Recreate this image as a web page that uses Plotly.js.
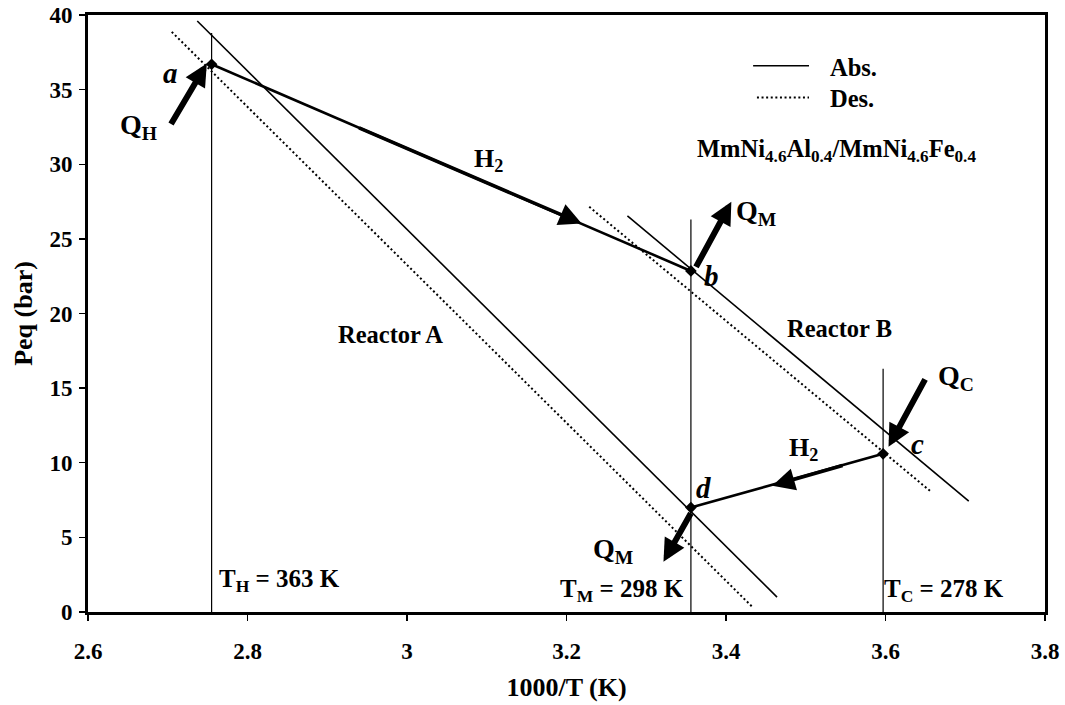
<!DOCTYPE html>
<html>
<head>
<meta charset="utf-8">
<script src="https://cdn.plot.ly/plotly-3.0.1.min.js"></script>
<style>
  html, body { margin: 0; padding: 0; background: #fff; }
  #chart { width: 1065px; height: 705px; }
</style>
</head>
<body>
<div id="chart"></div>
<script>
// Cycle states of the two-reactor metal hydride heat pump (1000/T, bar)
const cycleLabels = ['a', 'b', 'c', 'd'];
const cycleX = [2.755, 3.356, 3.597, 3.356];
const cycleY = [36.7, 22.85, 10.6, 7.0];

// Isotherms: T_H, T_M, T_C
const isoLabels = ['T<sub>H</sub> = 363 K', 'T<sub>M</sub> = 298 K', 'T<sub>C</sub> = 278 K'];
const isoX = [2.755, 3.356, 3.597];
const isoTop = [38.8, 26.3, 16.3];

// Van't Hoff lines for each reactor (absorption / desorption)
const reactorAAbsX = [2.737, 3.464];
const reactorAAbsY = [39.6, 1.0];
const reactorADesX = [2.705, 3.434];
const reactorADesY = [38.87, 0.29];
const reactorBAbsX = [3.2764, 3.7044];
const reactorBAbsY = [26.54, 7.43];
const reactorBDesX = [3.2285, 3.657];
const reactorBDesY = [27.15, 8.06];

// Heat flows: tail and head of each arrow
const heatLabels = ['Q<sub>H</sub>', 'Q<sub>M</sub>', 'Q<sub>C</sub>', 'Q<sub>M</sub>'];
const heatTailX = [2.703, 3.3614, 3.6507, 3.357];
const heatTailY = [32.6, 23.02, 15.69, 6.72];
const heatHeadX = [2.749, 3.4067, 3.6038, 3.3216];
const heatHeadY = [36.75, 27.48, 11.07, 3.37];
const heatTextX = [2.6627, 3.4376, 3.6884, 3.2583];
const heatTextY = [32.5, 26.8, 15.74, 4.09];

// Hydrogen transfer arrows along a->b and c->d
const h2TailX = [2.938, 3.548];
const h2TailY = [32.48, 9.84];
const h2HeadX = [3.219, 3.458];
const h2HeadY = [26.03, 8.46];
const h2TextX = [3.1016, 3.4966];
const h2TextY = [30.27, 10.92];

const xTicks = [2.6, 2.8, 3.0, 3.2, 3.4, 3.6, 3.8];
const xTickText = ['2.6', '2.8', '3', '3.2', '3.4', '3.6', '3.8'];
const yTicks = [0, 5, 10, 15, 20, 25, 30, 35, 40];

const FONT = 'Liberation Serif, Times New Roman, serif';
const DOT = '2px,2.6px';

function line(x, y, width, dash) {
  return { x: x, y: y, type: 'scatter', mode: 'lines', showlegend: false,
           hoverinfo: 'skip', line: { color: '#000', width: width, dash: dash || 'solid' } };
}
function bold(size, extra) {
  return Object.assign({ family: FONT, size: size, color: '#000', weight: 'bold' }, extra || {});
}

const traces = [];
// isotherms
isoX.forEach(function (xv, i) {
  traces.push(line([xv, xv], [0, isoTop[i]], 1.2));
});
// reactor lines
traces.push(line(reactorAAbsX, reactorAAbsY, 1.6));
traces.push(line(reactorADesX, reactorADesY, 2, DOT));
traces.push(line(reactorBAbsX, reactorBAbsY, 1.6));
traces.push(line(reactorBDesX, reactorBDesY, 2, DOT));
// hydrogen transfer paths a-b and c-d
traces.push(line([cycleX[0], cycleX[1]], [cycleY[0], cycleY[1]], 2.6));
traces.push(line([cycleX[2], cycleX[3]], [cycleY[2], cycleY[3]], 2.6));
// state points
traces.push({ x: cycleX, y: cycleY, type: 'scatter', mode: 'markers', showlegend: false,
              hoverinfo: 'skip', marker: { symbol: 'diamond', size: 9, color: '#000' } });

const annotations = [];
function txt(x, y, text, size, opts) {
  return Object.assign({ x: x, y: y, xref: 'x', yref: 'y', text: text, showarrow: false,
    font: bold(size) }, opts || {});
}

// state letters
const letterPos = [[2.703, 36.1], [3.382, 22.5], [3.6395, 11.25], [3.3724, 8.3]];
cycleLabels.forEach(function (l, i) {
  annotations.push(txt(letterPos[i][0], letterPos[i][1], l, 29,
    { font: bold(29, { style: 'italic' }) }));
});

// heat arrows and labels
heatLabels.forEach(function (l, i) {
  annotations.push({ x: heatHeadX[i], y: heatHeadY[i], ax: heatTailX[i], ay: heatTailY[i],
    xref: 'x', yref: 'y', axref: 'x', ayref: 'y', text: '', showarrow: true,
    arrowhead: 2, arrowsize: 0.75, arrowwidth: 6, arrowcolor: '#000', standoff: 0 });
  annotations.push(txt(heatTextX[i], heatTextY[i], l, 28));
});

// hydrogen arrows and labels
h2TailX.forEach(function (xv, i) {
  annotations.push({ x: h2HeadX[i], y: h2HeadY[i], ax: xv, ay: h2TailY[i],
    xref: 'x', yref: 'y', axref: 'x', ayref: 'y', text: '', showarrow: true,
    arrowhead: 2, arrowsize: 1.25, arrowwidth: 3.6, arrowcolor: '#000', standoff: 0 });
  annotations.push(txt(h2TextX[i], h2TextY[i], 'H<sub>2</sub>', 26));
});

// isotherm labels
annotations.push(txt(2.7618, 2.14, isoLabels[0], 25, { xanchor: 'left' }));
annotations.push(txt(3.3498, 1.41, isoLabels[1], 25, { xanchor: 'right' }));
annotations.push(txt(3.5956, 1.41, isoLabels[2], 25, { xanchor: 'left' }));

// reactor labels
annotations.push(txt(2.9787, 18.62, 'Reactor A', 24.5));
annotations.push(txt(3.5429, 19.02, 'Reactor B', 24.5));

// alloy pair
annotations.push(txt(3.538, 30.94, 'MmNi<sub>4.6</sub>Al<sub>0.4</sub>/MmNi<sub>4.6</sub>Fe<sub>0.4</sub>', 24.5));

// legend entries
annotations.push({ x: 0.7732, y: 0.912, xref: 'paper', yref: 'paper', xanchor: 'left', yanchor: 'middle',
  text: 'Abs.', showarrow: false, font: bold(24.5) });
annotations.push({ x: 0.7732, y: 0.860, xref: 'paper', yref: 'paper', xanchor: 'left', yanchor: 'middle',
  text: 'Des.', showarrow: false, font: bold(24.5) });

const shapes = [
  { type: 'line', xref: 'paper', yref: 'paper', x0: 0.695, x1: 0.7534, y0: 0.915, y1: 0.915,
    line: { color: '#000', width: 1.6 } },
  { type: 'line', xref: 'paper', yref: 'paper', x0: 0.699, x1: 0.7534, y0: 0.862, y1: 0.862,
    line: { color: '#000', width: 2, dash: DOT } }
];

const axisCommon = {
  showgrid: false, zeroline: false, showline: true, linewidth: 3, linecolor: '#000',
  mirror: true, ticks: 'outside', ticklen: 6, tickwidth: 1.3, tickcolor: '#000',
  tickfont: bold(23)
};

const layout = {
  width: 1065, height: 705,
  margin: { l: 88, r: 20, t: 15, b: 93 },
  paper_bgcolor: '#fff', plot_bgcolor: '#fff',
  showlegend: false,
  xaxis: Object.assign({}, axisCommon, {
    range: [2.6, 3.8], tickvals: xTicks, ticktext: xTickText, ticklabelstandoff: 10,
    title: { text: '1000/T (K)', standoff: 16, font: bold(26) }
  }),
  yaxis: Object.assign({}, axisCommon, {
    range: [0, 40], tickvals: yTicks, ticklabelstandoff: 2,
    title: { text: 'Peq (bar)', standoff: 10, font: bold(26) }
  }),
  annotations: annotations,
  shapes: shapes
};

Plotly.newPlot('chart', traces, layout, { staticPlot: true, displayModeBar: false });
</script>
</body>
</html>
